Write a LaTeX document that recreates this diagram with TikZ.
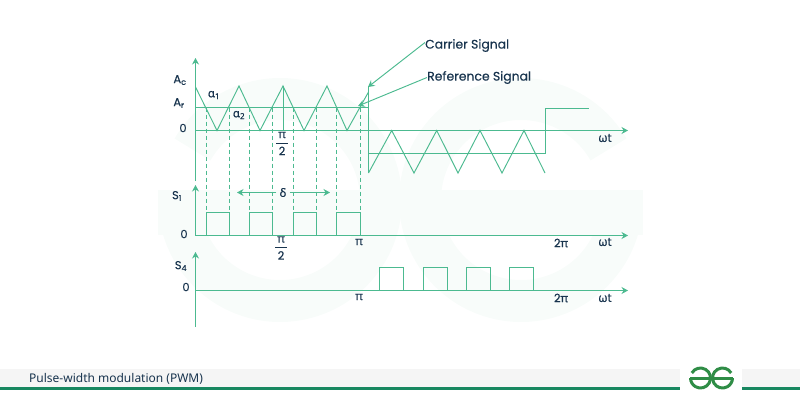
\documentclass[tikz,border=0pt]{standalone}
\usepackage{amsmath}
\usepackage{fontspec}
\setmainfont{Poppins}[FakeBold=0.35]
\newfontfamily\grk{Noto Sans}[FakeBold=0.6]
\newfontfamily\capfont{Noto Sans}
\usetikzlibrary{arrows.meta}
\definecolor{wavegreen}{RGB}{76,186,144}
\definecolor{inknavy}{RGB}{24,52,78}
\definecolor{markpale}{RGB}{248,252,250}
\definecolor{bargray}{RGB}{245,245,245}
\definecolor{barline}{RGB}{24,135,96}
\definecolor{logogreen}{RGB}{47,141,70}
\newcommand{\halfpi}{$\genfrac{}{}{1pt}{0}{\text{\,\grk π\,}}{\text{2}}$}

\begin{document}
\begin{tikzpicture}[
    x=1pt, y=-1pt,
    wave/.style={draw=wavegreen, line width=0.95pt, line join=miter},
    axis/.style={wave, -{Stealth[length=6.5pt, width=7pt]}},
    guide/.style={draw=wavegreen, line width=0.95pt, dash pattern=on 4pt off 3pt},
    lbl/.style={text=inknavy, font=\fontsize{11.5}{13}\selectfont, inner sep=0pt},
    callout/.style={text=inknavy, font=\fontsize{12.4}{15}\selectfont, inner sep=0pt},
    ring/.style={draw=markpale, line width=42pt},
    logo/.style={draw=logogreen, line width=3pt}
]
\useasboundingbox (0,0) rectangle (800,400);

% Watermark
\draw[ring] (280,200) ++(150:101pt) arc[start angle=150, end angle=-180, radius=101pt];
\draw[ring] (521,200) ++(30:101pt) arc[start angle=30, end angle=360, radius=101pt];
\fill[markpale] (158,190) rectangle (396,235);
\fill[markpale] (404,190) rectangle (643,235);

% Axes
\coordinate (topfoot) at (195.5,181);
\coordinate (toptip) at (195.5,58);
\coordinate (midfoot) at (195.5,235.5);
\coordinate (midtip) at (195.5,185);
\coordinate (lowfoot) at (195.5,327);
\coordinate (lowtip) at (195.5,252);
\draw[axis] (topfoot) -- (toptip);
\draw[axis] (midfoot) -- (midtip);
\draw[axis] (lowfoot) -- (lowtip);
\draw[axis] (195,130.5) -- (628,130.5);
\draw[axis] (195,235.5) -- (628,235.5);
\draw[axis] (195,290.5) -- (628,290.5);

% Carrier
\draw[wave] (195.5,87) -- (217,130.5) -- (239,86) -- (260,130.5) -- (283,86) -- (304,130.5)
    -- (327,86) -- (347,130.5) -- (368.5,92);
\draw[wave] (283,86) -- (283,130.5);
\draw[wave] (368.5,86) -- (368.5,173);
\draw[wave] (368.5,173) -- (391.7,130.5) -- (414,173) -- (436.7,130.5) -- (458,173)
    -- (480,130.5) -- (502,173) -- (524,130.5) -- (545,173);

% Reference
\draw[wave] (195.5,107.5) -- (368.5,107.5);
\draw[wave] (368.5,153.5) -- (545.5,153.5) -- (545.5,108.5) -- (589,108.5);

% Guides
\foreach \gx in {206,229,249,272,293,316,336,360}
    \draw[guide] (\gx.5,107.5) -- (\gx.5,212);

% S1 pulses
\draw[wave] (206.5,235.5) -- (206.5,212.5) -- (229.5,212.5) -- (229.5,235.5);
\draw[wave] (249.5,235.5) -- (249.5,212.5) -- (272.5,212.5) -- (272.5,235.5);
\draw[wave] (293.5,235.5) -- (293.5,212.5) -- (316.5,212.5) -- (316.5,235.5);
\draw[wave] (336.5,235.5) -- (336.5,212.5) -- (360.5,212.5) -- (360.5,235.5);

% S4 pulses
\draw[wave] (379.5,290.5) -- (379.5,267.5) -- (403.5,267.5) -- (403.5,290.5);
\draw[wave] (423.5,290.5) -- (423.5,267.5) -- (447.5,267.5) -- (447.5,290.5);
\draw[wave] (466.5,290.5) -- (466.5,267.5) -- (490.5,267.5) -- (490.5,290.5);
\draw[wave] (509.5,290.5) -- (509.5,267.5) -- (533.5,267.5) -- (533.5,290.5);

% Labels
\node[lbl] (ac) at (180,80) {A\textsubscript{c}};
\node[lbl] (ar) at (179,103) {A\textsubscript{r}};
\node[lbl] (zeroa) at (183,128) {0};
\node[lbl] (alphaa) at (214,95) {\grk α\textsubscript{1}};
\node[lbl] (alphab) at (239,115) {\grk α\textsubscript{2}};
\node[lbl] (halfa) at (282,143.5) {\halfpi};
\node[lbl] (sone) at (177,196) {S\textsubscript{1}};
\node[lbl] (zerob) at (184,234) {0};
\node[lbl] (halfb) at (281,248) {\halfpi};
\node[lbl] (sfour) at (181,266) {S\textsubscript{4}};
\node[lbl] (zeroc) at (186,287) {0};
\node[lbl] (pia) at (359,242) {\grk π};
\node[lbl] (pib) at (359,297) {\grk π};
\node[lbl] (twopia) at (561,243) {2{\grk π}};
\node[lbl] (twopib) at (561,298) {2{\grk π}};
\node[lbl] (wta) at (605,138) {{\grk ω}t};
\node[lbl] (wtb) at (605,242) {{\grk ω}t};
\node[lbl] (wtc) at (605,298) {{\grk ω}t};

% Delta
\node[lbl] (delta) at (283,192.5) {\grk δ};
\coordinate (deltal) at (237,192.5);
\coordinate (deltar) at (330,192.5);
\draw[axis] (delta.west) ++(-3,0) -- (deltal);
\draw[axis] (delta.east) ++(3,0) -- (deltar);

% Callouts
\node[callout, anchor=west] (carrier) at (425,45.5) {Carrier Signal};
\node[callout, anchor=west] (refsig) at (427,77.5) {Reference Signal};
\coordinate (carriertip) at (368,87);
\coordinate (reftip) at (358,106);
\draw[axis] (carrier.west) ++(0,-3) -- (carriertip);
\draw[axis] (refsig.west) -- (reftip);

% Footer
\fill[bargray] (0,369) rectangle (800,387);
\fill[barline] (0,387) rectangle (800,390);
\node[inner sep=0pt, anchor=west, text=inknavy, font=\capfont\fontsize{12}{14}\selectfont] (caption) at (29,378.5) {Pulse-width modulation (PWM)};
\fill[white] (680,365) rectangle (742,392);
\draw[logo] (690,378) -- (711,378);
\draw[logo] (711,378) -- (733,378);
\draw[logo] (700.5,378) ++(150:10pt) arc[start angle=150, end angle=-180, radius=10pt];
\draw[logo] (722.5,378) ++(30:10pt) arc[start angle=30, end angle=360, radius=10pt];
\end{tikzpicture}
\end{document}
